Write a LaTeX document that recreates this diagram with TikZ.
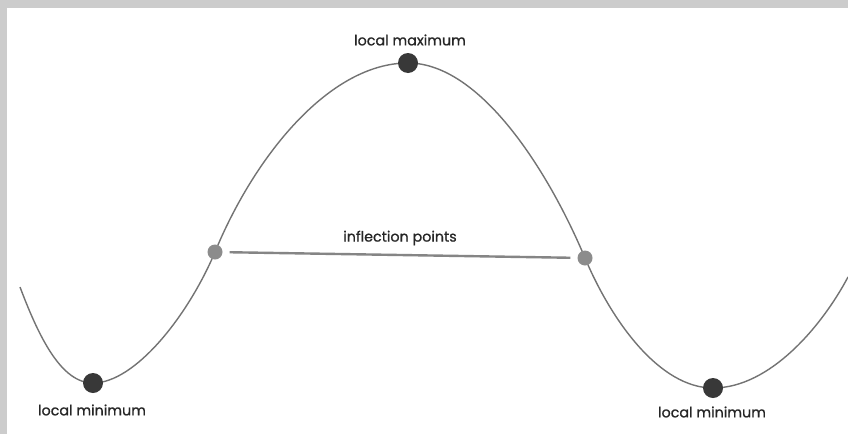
\documentclass[tikz,border=0pt]{standalone}
\usepackage{fontspec}
\setmainfont{Poppins}
\newfontfamily\lblfont{Poppins}[FakeBold=0.8]
\begin{document}
\begin{tikzpicture}[x=1pt,y=-1pt,
  curveline/.style={draw=black!55,line width=1.4pt},
  bigdot/.style={circle,fill=black!78,inner sep=0pt,minimum size=20pt},
  smalldot/.style={circle,fill=black!45,inner sep=0pt,minimum size=15pt},
  lbl/.style={font=\lblfont\fontsize{14.3}{16}\selectfont,text=black!85,inner sep=0pt},
  joinline/.style={draw=black!48,line width=2.4pt,shorten <=7pt,shorten >=7pt}]
\useasboundingbox (0,0) rectangle (848,434);
\fill[black!20] (0,0) rectangle (848,434);
\fill[white] (7,8) rectangle (848,434);
\draw[curveline] (20,287) .. controls (40,340) and (62,383) .. (93,383)
  .. controls (135,383) and (188,316) .. (215,252)
  .. controls (255,155) and (330,63) .. (408,63)
  .. controls (480,63) and (548,170) .. (585,258)
  .. controls (612,322) and (660,388) .. (713,388)
  .. controls (770,388) and (822,326) .. (848,277);
\node[bigdot] (max) at (408,63) {};
\node[bigdot] (min1) at (93,383) {};
\node[bigdot] (min2) at (713,388) {};
\node[smalldot] (ip1) at (215,252) {};
\node[smalldot] (ip2) at (585,258) {};
\draw[joinline] (ip1) -- (ip2);
\node[lbl] (tmax) at (410,40) {local maximum};
\node[lbl] (tinf) at (400,238) {inflection points};
\node[lbl] (tmin1) at (92,410) {local minimum};
\node[lbl] (tmin2) at (712,412) {local minimum};
\end{tikzpicture}
\end{document}
